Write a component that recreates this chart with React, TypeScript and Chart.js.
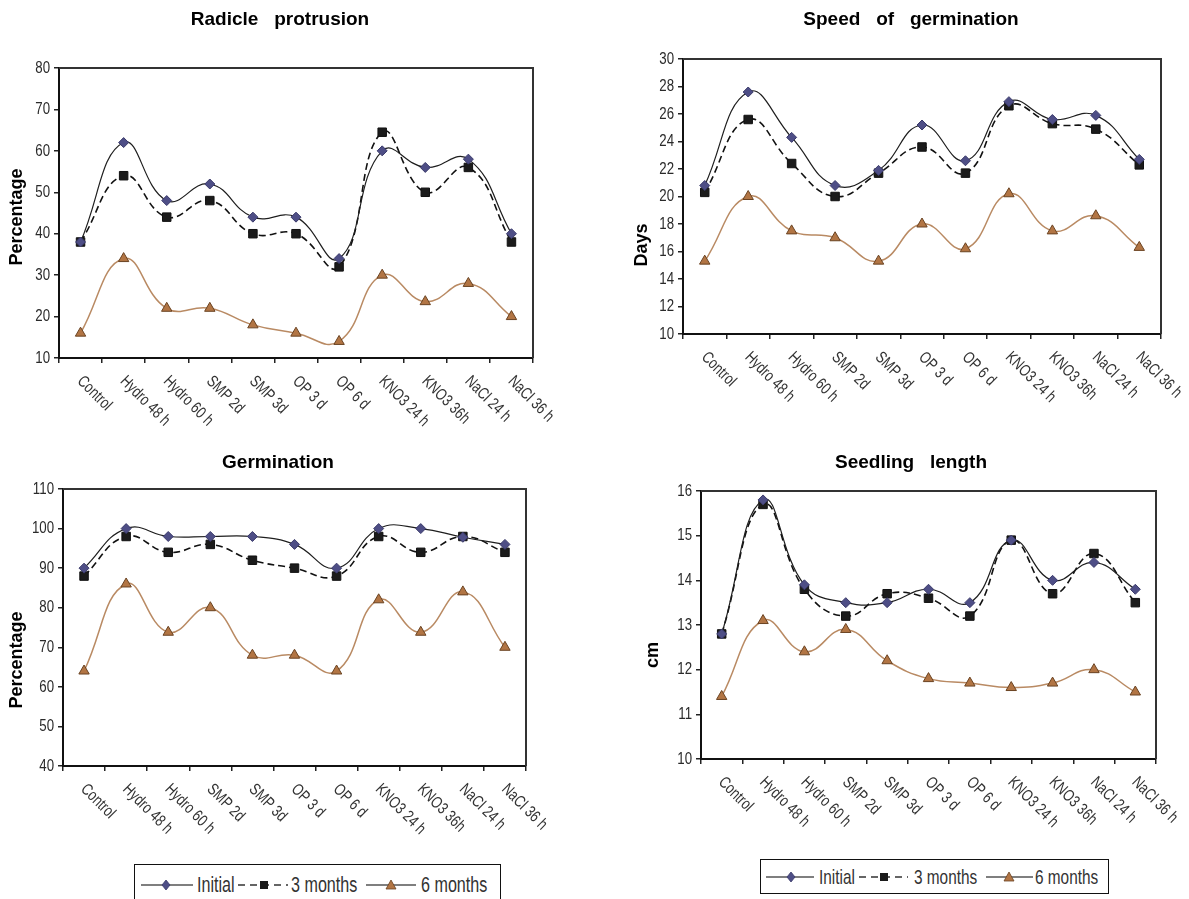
import React, { useEffect, useRef } from "react";
import { Chart, registerables } from "chart.js";

Chart.register(...registerables);

const CATEGORIES = [
  "Control", "Hydro 48 h", "Hydro 60 h", "SMP 2d", "SMP 3d", "OP 3 d",
  "OP 6 d", "KNO3 24 h", "KNO3 36h", "NaCl 24 h", "NaCl 36 h",
];
const SERIES_NAMES = ["Initial", "3 months", "6 months"];

// Radicle protrusion (%)
const RADICLE_INITIAL = [38, 62, 48, 52, 44, 44, 34, 60, 56, 58, 40];
const RADICLE_3M = [38, 54, 44, 48, 40, 40, 32, 64.5, 50, 56, 38];
const RADICLE_6M = [16, 34, 22, 22, 18, 16, 14, 30, 23.6, 28, 20];

// Speed of germination (days)
const SPEED_INITIAL = [20.8, 27.6, 24.3, 20.8, 21.9, 25.2, 22.6, 26.9, 25.6, 25.9, 22.7];
const SPEED_3M = [20.3, 25.6, 22.4, 20.0, 21.7, 23.6, 21.7, 26.6, 25.3, 24.9, 22.3];
const SPEED_6M = [15.3, 20.0, 17.5, 17.0, 15.3, 18.0, 16.2, 20.2, 17.5, 18.6, 16.3];

// Germination (%)
const GERM_INITIAL = [90, 100, 98, 98, 98, 96, 90, 100, 100, 97.8, 96];
const GERM_3M = [88, 98, 94, 96, 92, 90, 88, 98, 94, 98, 94];
const GERM_6M = [64, 86, 73.8, 80, 68, 68, 64, 82, 73.8, 84, 70];

// Seedling length (cm)
const SEED_INITIAL = [12.8, 15.8, 13.9, 13.5, 13.5, 13.8, 13.5, 14.9, 14.0, 14.4, 13.8];
const SEED_3M = [12.8, 15.7, 13.8, 13.2, 13.7, 13.6, 13.2, 14.9, 13.7, 14.6, 13.5];
const SEED_6M = [11.4, 13.1, 12.4, 12.9, 12.2, 11.8, 11.7, 11.6, 11.7, 12.0, 11.5];

const SANS = '"Liberation Sans", Arial, sans-serif';
const TICK_SCALE = 0.78;
const LEGEND_SCALE = 0.75;

const DIAMOND_FILL = "#4e4e86";
const SQUARE_FILL = "#1b1b1b";
const TRI_FILL = "#b27544";
const TRI_LINE = "#b98a63";

type Panel = {
  left: number; top: number; width: number; height: number;
  yWidth: number; padTop: number; padRight: number; xHeight: number;
  title: string; titleX: number; titleY: number;
  yTitle: string; yTitleX: number; yTitleY: number;
  min: number; max: number; step: number;
  initial: number[]; m3: number[]; m6: number[];
};

const PANELS: Panel[] = [
  {
    left: 0, top: 0, width: 594, height: 445,
    yWidth: 59, padTop: 68, padRight: 61, xHeight: 87,
    title: "Radicle   protrusion", titleX: 280, titleY: 20,
    yTitle: "Percentage", yTitleX: 17, yTitleY: 217,
    min: 10, max: 80, step: 10,
    initial: RADICLE_INITIAL, m3: RADICLE_3M, m6: RADICLE_6M,
  },
  {
    left: 600, top: 0, width: 589, height: 445,
    yWidth: 83, padTop: 59, padRight: 28, xHeight: 111,
    title: "Speed   of   germination", titleX: 311, titleY: 20,
    yTitle: "Days", yTitleX: 42, yTitleY: 245,
    min: 10, max: 30, step: 2,
    initial: SPEED_INITIAL, m3: SPEED_3M, m6: SPEED_6M,
  },
  {
    left: 0, top: 445, width: 594, height: 415,
    yWidth: 63, padTop: 44, padRight: 68, xHeight: 94,
    title: "Germination", titleX: 278, titleY: 18,
    yTitle: "Percentage", yTitleX: 17, yTitleY: 215,
    min: 40, max: 110, step: 10,
    initial: GERM_INITIAL, m3: GERM_3M, m6: GERM_6M,
  },
  {
    left: 600, top: 445, width: 589, height: 410,
    yWidth: 101, padTop: 46, padRight: 33, xHeight: 96,
    title: "Seedling   length", titleX: 311, titleY: 18,
    yTitle: "cm", yTitleX: 53, yTitleY: 210,
    min: 10, max: 16, step: 1,
    initial: SEED_INITIAL, m3: SEED_3M, m6: SEED_6M,
  },
];

function makeDecor(p: Panel) {
  return {
    id: "decor",
    afterDraw(chart: any) {
      const { ctx, chartArea: a, scales } = chart;
      ctx.save();
      // top & right frame
      ctx.strokeStyle = "#333";
      ctx.lineWidth = 2;
      ctx.beginPath();
      ctx.moveTo(a.left, a.top);
      ctx.lineTo(a.right, a.top);
      ctx.lineTo(a.right, a.bottom);
      ctx.stroke();
      // title
      ctx.fillStyle = "#000";
      ctx.font = `bold 19px ${SANS}`;
      ctx.textAlign = "center";
      ctx.textBaseline = "middle";
      ctx.fillText(p.title, p.titleX, p.titleY);
      // y title
      ctx.save();
      ctx.translate(p.yTitleX, p.yTitleY);
      ctx.rotate(-Math.PI / 2);
      ctx.font = `bold 18px ${SANS}`;
      ctx.fillText(p.yTitle, 0, 0);
      ctx.restore();
      // y tick labels (condensed)
      const ys = scales.y;
      ctx.font = `17px ${SANS}`;
      ctx.fillStyle = "#2a2a2a";
      ctx.textAlign = "right";
      ctx.textBaseline = "middle";
      ys.ticks.forEach((t: any) => {
        const y = ys.getPixelForValue(t.value);
        ctx.save();
        ctx.translate(a.left - 9, y);
        ctx.scale(TICK_SCALE, 1);
        ctx.fillText(String(t.value), 0, 0);
        ctx.restore();
      });
      // x labels rotated clockwise (condensed)
      const xs = scales.x;
      ctx.font = `16.5px ${SANS}`;
      ctx.fillStyle = "#333";
      ctx.textAlign = "left";
      ctx.textBaseline = "top";
      CATEGORIES.forEach((c, i) => {
        const x = xs.getPixelForValue(i);
        ctx.save();
        ctx.translate(x + 5, a.bottom + 15);
        ctx.rotate(Math.PI / 4);
        ctx.scale(TICK_SCALE, 1);
        ctx.fillText(c, 0, 0);
        ctx.restore();
      });
      ctx.restore();
    },
  };
}

function ChartPanel({ p }: { p: Panel }) {
  const ref = useRef<HTMLCanvasElement | null>(null);
  useEffect(() => {
    if (!ref.current) return;
    const chart = new Chart(ref.current, {
      type: "line",
      data: {
        labels: CATEGORIES,
        datasets: [
          {
            label: SERIES_NAMES[0],
            data: p.initial,
            borderColor: "#1e1e1e",
            borderWidth: 1.2,
            pointStyle: "rectRot",
            pointRadius: 5,
            pointBackgroundColor: DIAMOND_FILL,
            pointBorderColor: "#3a3a6a",
            pointBorderWidth: 1,
            tension: 0.45,
          },
          {
            label: SERIES_NAMES[1],
            data: p.m3,
            borderColor: "#111",
            borderWidth: 1.6,
            borderDash: [7, 4],
            pointStyle: "rect",
            pointRadius: 6,
            pointBackgroundColor: SQUARE_FILL,
            pointBorderColor: "#111",
            pointBorderWidth: 1,
            tension: 0.45,
          },
          {
            label: SERIES_NAMES[2],
            data: p.m6,
            borderColor: TRI_LINE,
            borderWidth: 1.5,
            pointStyle: "triangle",
            pointRadius: 6,
            pointBackgroundColor: TRI_FILL,
            pointBorderColor: "#6a4322",
            pointBorderWidth: 1,
            tension: 0.45,
          },
        ],
      },
      options: {
        responsive: false,
        animation: false,
        devicePixelRatio: 1,
        layout: { padding: { top: p.padTop, right: p.padRight, left: 0, bottom: 0 } },
        plugins: { legend: { display: false }, tooltip: { enabled: false }, title: { display: false } },
        scales: {
          x: {
            type: "category",
            offset: true,
            grid: { offset: true, drawOnChartArea: false, drawTicks: true, tickLength: 5, color: "#222", lineWidth: 1.5 },
            border: { display: true, color: "#111", width: 2 },
            ticks: { display: false },
            afterFit: (s: any) => { s.height = p.xHeight; },
          },
          y: {
            min: p.min,
            max: p.max,
            ticks: { display: false, stepSize: p.step },
            grid: { drawOnChartArea: false, drawTicks: true, tickLength: 5, color: "#222", lineWidth: 1.5 },
            border: { display: true, color: "#111", width: 2 },
            afterFit: (s: any) => { s.width = p.yWidth; },
          },
        },
      } as any,
      plugins: [makeDecor(p)],
    });
    return () => chart.destroy();
  }, [p]);
  return (
    <canvas
      ref={ref}
      width={p.width}
      height={p.height}
      style={{ position: "absolute", left: p.left, top: p.top, width: p.width, height: p.height }}
    />
  );
}

type LegendLayout = {
  left: number; top: number; width: number; height: number; cy: number; fontSize: number;
  lines: [number, number, number][]; texts: number[];
};

const LEGENDS: LegendLayout[] = [
  { left: 134, top: 864, width: 367, height: 36, cy: 20, fontSize: 21.5,
    lines: [[6, 58, 31], [103, 153, 129], [231, 281, 256]], texts: [62, 156, 286] },
  { left: 760, top: 859, width: 349, height: 35, cy: 17, fontSize: 20.5,
    lines: [[5, 53, 30], [98, 147, 123], [225, 272, 248]], texts: [58, 153, 274] },
];

function Legend({ l }: { l: LegendLayout }) {
  const cy = l.cy;
  const [a, b, c] = l.lines;
  return (
    <div style={{ position: "absolute", left: l.left, top: l.top, width: l.width, height: l.height, border: "1.5px solid #111", boxSizing: "border-box", background: "#fff" }}>
      <svg width={l.width - 3} height={l.height - 3} style={{ position: "absolute", left: 0, top: 0 }}>
        <line x1={a[0]} x2={a[1]} y1={cy} y2={cy} stroke="#555" strokeWidth={1.5} />
        <polygon points={`${a[2] - 4},${cy} ${a[2]},${cy - 5} ${a[2] + 4},${cy} ${a[2]},${cy + 5}`} fill={DIAMOND_FILL} stroke="#3a3a6a" strokeWidth={0.8} />
        <line x1={b[0]} x2={b[1]} y1={cy} y2={cy} stroke="#333" strokeWidth={1.5} strokeDasharray="7 5" />
        <rect x={b[2] - 4} y={cy - 4} width={8} height={8} fill={SQUARE_FILL} />
        <line x1={c[0]} x2={c[1]} y1={cy} y2={cy} stroke="#555" strokeWidth={1.5} />
        <polygon points={`${c[2] - 5},${cy + 4} ${c[2]},${cy - 5} ${c[2] + 5},${cy + 4}`} fill={TRI_FILL} stroke="#6a4322" strokeWidth={0.8} />
        {SERIES_NAMES.map((n, i) => (
          <text key={n} transform={`translate(${l.texts[i]},${cy}) scale(${LEGEND_SCALE},1)`} x={0} y={0} dominantBaseline="central" fontFamily={SANS} fontSize={l.fontSize} fill="#333">{n}</text>
        ))}
      </svg>
    </div>
  );
}

export default function App() {
  return (
    <div style={{ position: "absolute", left: 0, top: 0, width: 1189, height: 899, background: "#fff", overflow: "hidden" }}>
      {PANELS.map((p, i) => <ChartPanel key={i} p={p} />)}
      {LEGENDS.map((l, i) => <Legend key={i} l={l} />)}
    </div>
  );
}
